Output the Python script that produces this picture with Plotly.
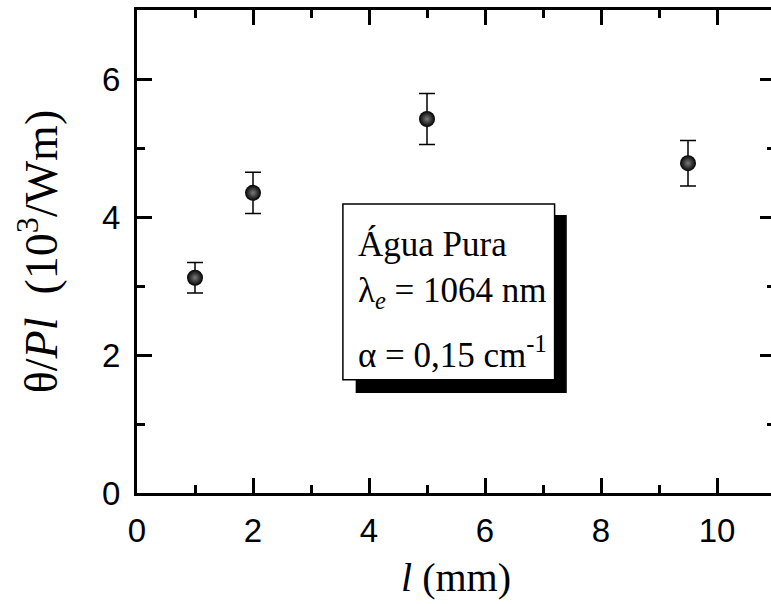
import plotly.graph_objects as go

# Data
l_mm = [1, 2, 5, 9.5]
theta_pl = [3.12, 4.35, 5.42, 4.78]
err = [0.22, 0.30, 0.37, 0.33]

x_ticks = [0, 2, 4, 6, 8, 10]
y_ticks = [0, 2, 4, 6]

SERIF = "Liberation Serif, Times New Roman, serif"
SANS = "Arial, Liberation Sans, sans-serif"

fig = go.Figure()
fig.add_trace(go.Scatter(
    x=l_mm, y=theta_pl, mode="markers",
    marker=dict(size=16, color="black", symbol="circle",
                gradient=dict(type="radial", color="#7a7a7a"),
                line=dict(width=0)),
    error_y=dict(type="data", array=err, visible=True, color="black",
                 thickness=1.5, width=8),
    showlegend=False,
))

# Legend-like box with shadow
fig.add_shape(type="rect", xref="x", yref="y", x0=3.77, x1=7.41, y0=1.45, y1=4.03,
              fillcolor="black", line=dict(width=0), layer="above")
fig.add_shape(type="rect", xref="x", yref="y", x0=3.55, x1=7.2, y0=1.64, y1=4.19,
              fillcolor="white", line=dict(color="black", width=1.5), layer="above")

box_lines = ["Água Pura", "λ<sub><i>e</i></sub> = 1064 nm", "α = 0,15 cm<sup>-1</sup>"]
box_y = [3.6, 2.91, 2.03]
for t, yy in zip(box_lines, box_y):
    fig.add_annotation(x=3.77, y=yy, xref="x", yref="y", text=t, showarrow=False,
                       xanchor="left", yanchor="middle",
                       font=dict(family=SERIF, size=35, color="black"))

axis_common = dict(
    showline=True, linecolor="black", linewidth=3, mirror="ticks",
    ticks="inside", ticklen=15, tickwidth=2.5, tickcolor="black",
    showgrid=False, zeroline=False,
    tickfont=dict(family=SANS, size=33, color="black"),
)

fig.update_xaxes(range=[0, 11], tickvals=x_ticks, ticktext=[str(v) for v in x_ticks],
                 ticklabelstandoff=6,
                 minor=dict(dtick=1, tick0=0, ticks="inside", ticklen=8, tickwidth=2.5, tickcolor="black"),
                 title=dict(text="<i>l</i> (mm)", font=dict(family=SERIF, size=40, color="black"), standoff=16),
                 **axis_common)
fig.update_yaxes(range=[0, 7], tickvals=y_ticks, ticktext=[str(v) for v in y_ticks],
                 ticklabelstandoff=7,
                 minor=dict(dtick=1, tick0=0, ticks="inside", ticklen=8, tickwidth=2.5, tickcolor="black"),
                 title=dict(text="θ/<i>Pl</i>  (10<sup>3</sup>/Wm)", font=dict(family=SERIF, size=46, color="black"), standoff=30),
                 **axis_common)

fig.update_layout(
    width=778, height=604,
    margin=dict(l=137, r=0, t=10, b=111),
    plot_bgcolor="white", paper_bgcolor="white",
)

fig.write_html("out.html",
               post_script="document.documentElement.style.overflow='hidden';document.body.style.overflow='hidden';")
